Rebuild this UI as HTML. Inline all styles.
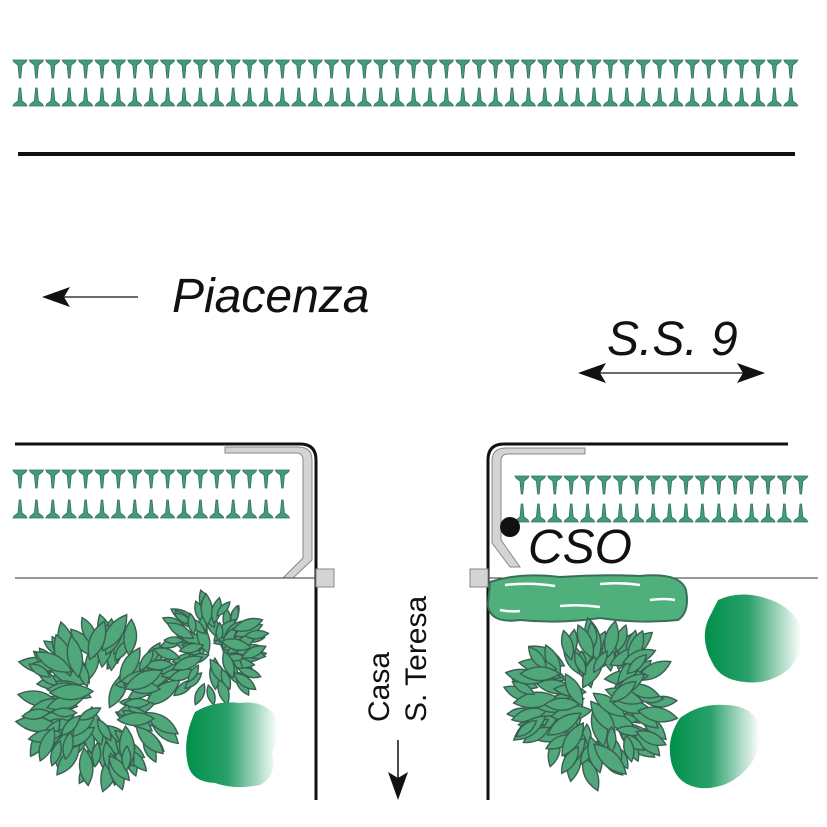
<!DOCTYPE html>
<html><head><meta charset="utf-8"><style>
html,body{margin:0;padding:0;background:#fff;}
svg{display:block;}
text{font-family:"Liberation Sans",sans-serif;}
</style></head><body>
<svg id="s" width="827" height="827" viewBox="0 0 827 827" xmlns="http://www.w3.org/2000/svg">
<defs>
<linearGradient id="gb" x1="0" y1="0" x2="1" y2="0">
<stop offset="0" stop-color="#00904a"/><stop offset="0.45" stop-color="#2aa06a"/><stop offset="1" stop-color="#ffffff"/>
</linearGradient>
</defs>
<g id="spikes"></g>
<line x1="18" y1="154" x2="795" y2="154" stroke="#111" stroke-width="4"/>
<!-- Piacenza -->
<line x1="55" y1="297" x2="138" y2="297" stroke="#111" stroke-width="1.2"/>
<path d="M42,297 L70,287 L64,297 L70,307 Z" fill="#111"/>
<text x="172" y="312" font-size="48" font-style="italic" fill="#111">Piacenza</text>
<!-- SS9 -->
<text x="607" y="355" font-size="48" font-style="italic" fill="#111">S.S. 9</text>
<line x1="595" y1="373" x2="750" y2="373" stroke="#111" stroke-width="1.2"/>
<path d="M578,373 L606,363 L600,373 L606,383 Z" fill="#111"/>
<path d="M765,373 L737,363 L743,373 L737,383 Z" fill="#111"/>
<!-- left block -->
<path d="M15,444 L300,444 Q316,444 316,460 L316,800" fill="none" stroke="#111" stroke-width="3"/>
<path d="M225,447 L225,453 L296,453 Q303,453 303,460 L303,558 L283,578 L293,578 L312,560 L312,460 Q312,447 298,447 Z" fill="#d4d4d4" stroke="#888" stroke-width="1"/>
<line x1="15" y1="578" x2="316" y2="578" stroke="#333" stroke-width="1"/>
<rect x="316" y="569" width="18" height="18" fill="#d4d4d4" stroke="#888"/>
<!-- right block -->
<path d="M488,800 L488,460 Q488,444 504,444 L788,444" fill="none" stroke="#111" stroke-width="3"/>
<path d="M585,448 L585,454 L508,454 Q501,454 501,461 L501,540 L520,567 L510,567 L492,543 L492,461 Q492,448 506,448 Z" fill="#d4d4d4" stroke="#888" stroke-width="1"/>
<line x1="488" y1="578" x2="818" y2="578" stroke="#333" stroke-width="1"/>
<rect x="470" y="569" width="18" height="18" fill="#d4d4d4" stroke="#888"/>
<circle cx="510" cy="527" r="10" fill="#111"/>
<text x="528" y="563" font-size="48" font-style="italic" fill="#111">CSO</text>
<!-- tube -->
<path d="M490,582 Q520,572 560,577 Q600,574 640,576 Q680,572 686,590 Q690,612 678,620 Q640,624 600,618 Q560,624 520,620 Q490,624 488,605 Z" fill="#4fb07c" stroke="#3a6d5a" stroke-width="2"/>
<path d="M505,585 Q530,582 555,586 M600,584 Q620,582 640,585 M560,606 Q580,604 600,607 M650,600 Q665,598 675,600 M500,610 Q510,612 520,611" stroke="#fff" stroke-width="2.5" fill="none"/>
<!-- casa -->
<text transform="translate(389,722) rotate(-90)" font-size="30" fill="#111">Casa</text>
<text transform="translate(426,722) rotate(-90)" font-size="30" fill="#111">S. Teresa</text>
<line x1="398" y1="740" x2="398" y2="785" stroke="#111" stroke-width="1.5"/>
<path d="M398,800 L388,772 L398,778 L408,772 Z" fill="#111"/>
<g id="trees"></g>
<!-- blobs -->
<path d="M195,712 Q215,700 240,703 Q262,700 275,715 Q282,735 272,752 Q278,775 260,785 Q235,790 215,783 Q192,782 188,765 Q182,740 195,712 Z" fill="url(#gb)"/>
<path d="M718,600 Q740,590 765,598 Q790,605 800,625 Q806,650 790,668 Q770,685 745,682 Q720,680 712,662 Q700,640 708,620 Z" fill="url(#gb)"/>
<path d="M680,718 Q700,703 725,705 Q748,705 757,720 Q765,745 750,765 Q730,790 700,788 Q678,785 672,765 Q665,740 680,718 Z" fill="url(#gb)"/>
</svg>
<script>
var NS="http://www.w3.org/2000/svg";
var sp=document.getElementById("spikes");
function spike(x,y,dir){var p=document.createElementNS(NS,"path");
 var d=dir*18;
 p.setAttribute("d","M"+(x-7)+","+y+" L"+(x+7)+","+y+" L"+(x+6)+","+(y+dir*2)+" L"+(x+2)+","+(y+dir*5)+" L"+(x+0.8)+","+(y+d)+" L"+(x-0.8)+","+(y+d)+" L"+(x-2)+","+(y+dir*5)+" L"+(x-6)+","+(y+dir*2)+"Z");
 p.setAttribute("fill","#3f9e78");p.setAttribute("stroke","#3a6d5a");p.setAttribute("stroke-width","0.8");sp.appendChild(p);}
for(var x=20;x<=800;x+=16.4){spike(x,60,1);spike(x,106,-1);}
for(var x=20;x<=290;x+=16.4){spike(x,470,1);spike(x,518,-1);}
for(var x=522;x<=805;x+=16.4){spike(x,476,1);spike(x,522,-1);}
var tr=document.getElementById("trees");
var seed=3;function rnd(){seed=(seed*9301+49297)%233280;return seed/233280;}
function tree(cx,cy,R,n){
 for(var i=0;i<n;i++){
  var a=rnd()*Math.PI*2;var r=R*(0.2+0.8*Math.sqrt(rnd()));
  var x=cx+Math.cos(a)*r,y=cy+Math.sin(a)*r;var L=(8+rnd()*10)*R/72+4;var W=L*0.7;
  var ang=a*180/Math.PI+(rnd()-0.5)*60;
  var p=document.createElementNS(NS,"path");
  p.setAttribute("d","M"+(-L)+",0 Q0,"+(-W)+" "+L+",0 Q0,"+W+" "+(-L)+",0Z");
  p.setAttribute("transform","translate("+x.toFixed(1)+","+y.toFixed(1)+") rotate("+ang.toFixed(0)+")");
  p.setAttribute("fill","#4fa77a");p.setAttribute("stroke","#3a5f52");p.setAttribute("stroke-width","1.4");
  tr.appendChild(p);
 }
}
tree(100,702,72,120);tree(212,650,48,80);tree(590,702,72,120);
</script>
</body></html>
